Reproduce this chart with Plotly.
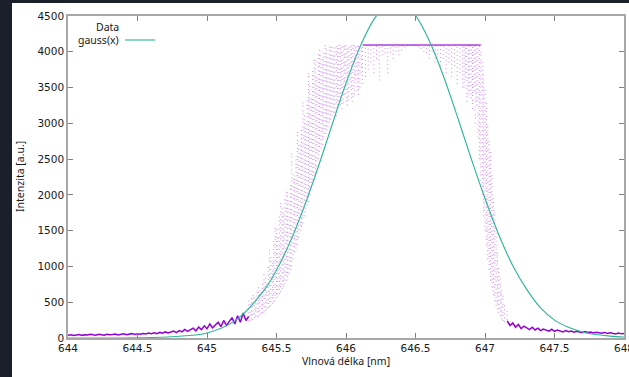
import plotly.graph_objects as go

# ---------------- data ----------------
# dense low-intensity parts of the measured spectrum (left and right tails)
tail_left_wl = [644.00, 644.02, 644.04, 644.06, 644.08, 644.10, 644.12, 644.14, 644.16, 644.18,
                644.20, 644.22, 644.24, 644.26, 644.28, 644.30, 644.32, 644.34, 644.36, 644.38,
                644.40, 644.42, 644.44, 644.46, 644.48, 644.50, 644.52, 644.54, 644.56, 644.58,
                644.60, 644.62, 644.64, 644.66, 644.68, 644.70, 644.72, 644.74, 644.76, 644.78,
                644.80, 644.82, 644.84, 644.86, 644.88, 644.90, 644.92, 644.94, 644.96, 644.98,
                645.00, 645.02, 645.04, 645.06, 645.08, 645.10, 645.12, 645.14, 645.16, 645.18,
                645.20, 645.22, 645.24, 645.26, 645.28, 645.30]
tail_left_int = [38, 45, 35, 43, 49, 37, 46, 41, 52, 44,
                 40, 51, 47, 39, 53, 45, 49, 56, 43, 51,
                 58, 47, 54, 61, 50, 59, 53, 64, 57, 68,
                 61, 73, 59, 78, 66, 85, 71, 80, 97, 75,
                 104, 86, 121, 93, 112, 138, 101, 152, 117, 170,
                 128, 196, 142, 181, 220, 158, 245, 176, 230, 285,
                 195, 310, 220, 350, 245, 300]

tail_right_wl = [647.16, 647.18, 647.20, 647.22, 647.24, 647.26, 647.28, 647.30, 647.32, 647.34,
                 647.36, 647.38, 647.40, 647.42, 647.44, 647.46, 647.48, 647.50, 647.52, 647.54,
                 647.56, 647.58, 647.60, 647.62, 647.64, 647.66, 647.68, 647.70, 647.72, 647.74,
                 647.76, 647.78, 647.80, 647.82, 647.84, 647.86, 647.88, 647.90, 647.92, 647.94,
                 647.96, 647.98, 648.00]
tail_right_int = [240, 175, 210, 150, 190, 130, 165, 140, 118, 150,
                  112, 138, 104, 126, 115, 96, 122, 92, 110, 100,
                  86, 105, 88, 97, 80, 93, 86, 75, 90, 78,
                  84, 70, 80, 74, 66, 78, 63, 72, 66, 57,
                  69, 58, 62]

# scattered part of the spectrum: spread of the dots at each wavelength (low / high)
mid_wl = [645.30, 645.32, 645.34, 645.36, 645.38, 645.40, 645.42, 645.44, 645.46, 645.48,
          645.50, 645.52, 645.54, 645.56, 645.58, 645.60, 645.62, 645.64, 645.66, 645.68,
          645.70, 645.72, 645.74, 645.76, 645.78, 645.80, 645.82, 645.84, 645.86, 645.88,
          645.90, 645.92, 645.94, 645.96, 645.98, 646.00, 646.02, 646.04, 646.06, 646.08,
          646.10, 646.12, 646.14, 646.16, 646.18, 646.20, 646.22, 646.24, 646.26, 646.28,
          646.30, 646.32, 646.34, 646.36, 646.38, 646.40, 646.42, 646.44, 646.46, 646.48,
          646.50, 646.52, 646.54, 646.56, 646.58, 646.60, 646.62, 646.64, 646.66, 646.68,
          646.70, 646.72, 646.74, 646.76, 646.78, 646.80, 646.82, 646.84, 646.86, 646.88,
          646.90, 646.92, 646.94, 646.96, 646.98, 647.00, 647.02, 647.04, 647.06, 647.08,
          647.10, 647.12, 647.14, 647.16]
mid_low = [230, 260, 280, 300, 320, 350, 380, 420, 450, 500,
           560, 620, 680, 750, 850, 950, 1100, 1250, 1400, 1550,
           1700, 1850, 2000, 2150, 2300, 2500, 2650, 2800, 2900, 3000,
           3100, 3150, 3200, 3250, 3280, 3300, 3320, 3350, 3400, 3450,
           3500, 3550, 3650, 3750, 3850, 3700, 3900, 3600, 3950, 3980,
           3700, 3990, 3900, 4000, 3950, 4020, 4060, 4080, 4085, 4085,
           4080, 4070, 4040, 4000, 3980, 3900, 4000, 3850, 3960, 3800,
           3900, 3700, 3850, 3650, 3800, 3550, 3700, 3500, 3650, 3400,
           3350, 3450, 3250, 2500, 2000, 1500, 1100, 800, 600, 450,
           350, 260, 220, 200]
mid_high = [520, 560, 600, 650, 700, 760, 850, 1000, 1150, 1350,
            1550, 1700, 1850, 1950, 2050, 2150, 2300, 2500, 2750, 2950,
            3150, 3350, 3550, 3750, 3900, 3980, 4000, 4030, 4050, 4070,
            4090, 4095, 4095, 4095, 4095, 4095, 4095, 4095, 4095, 4095,
            4095, 4095, 4095, 4095, 4095, 4095, 4095, 4095, 4095, 4095,
            4095, 4095, 4095, 4095, 4095, 4095, 4095, 4095, 4095, 4095,
            4095, 4095, 4095, 4095, 4095, 4095, 4095, 4095, 4095, 4095,
            4095, 4095, 4095, 4095, 4095, 4095, 4095, 4095, 4095, 4095,
            4095, 4095, 4095, 4095, 3900, 3500, 3000, 2600, 2000, 1500,
            1000, 700, 500, 400]

# extra scattered columns in the densest parts of both slopes
mid2_wl = [645.31, 645.33, 645.35, 645.37, 645.39, 645.41, 645.43, 645.45, 645.47, 645.49,
           645.51, 645.53, 645.55, 645.57, 645.59, 645.61, 645.63, 645.65, 645.67, 645.69,
           645.71, 645.73, 645.75, 645.77, 645.79, 645.81, 645.83, 645.85, 645.87, 645.89,
           645.91, 645.93, 645.95, 645.97, 645.99, 646.01, 646.03, 646.05, 646.07, 646.09,
           646.11,
           646.85, 646.87, 646.89, 646.91, 646.93, 646.95, 646.97, 646.99, 647.01, 647.03,
           647.05, 647.07, 647.09, 647.11, 647.13]
mid2_low = [240, 250, 300, 290, 340, 360, 410, 430, 480, 520,
            600, 640, 720, 800, 900, 1000, 1200, 1300, 1500, 1600,
            1800, 1900, 2100, 2200, 2400, 2600, 2700, 2850, 2950, 3050,
            3150, 3100, 3300, 3200, 3400, 3250, 3500, 3300, 3600, 3400,
            3700,
            3500, 3300, 3450, 3200, 3000, 2800, 2200, 1700, 1300, 950,
            700, 520, 400, 300, 240]
mid2_high = [480, 620, 560, 720, 650, 900, 780, 1250, 1100, 1600,
             1450, 1900, 1750, 2100, 1950, 2600, 2250, 2900, 2700, 3300,
             3000, 3700, 3400, 3950, 3700, 4050, 3900, 4095, 3950, 4095,
             4000, 4095, 4095, 4095, 4095, 4095, 4095, 4095, 4095, 4095,
             4095,
             4095, 4095, 4095, 4095, 4095, 4095, 4050, 3700, 3300, 2800,
             2300, 1800, 1200, 850, 600]

# saturated plateau of the detector
plateau_wl = [646.12, 646.97]
plateau_int = [4095, 4095]

# fitted gauss(x) curve
gauss_wl = [644.0, 644.5, 644.8, 645.0, 645.2, 645.4, 645.5, 645.6, 645.7, 645.8,
            645.9, 646.0, 646.1, 646.2, 646.3, 646.36, 646.4, 646.5, 646.6, 646.7,
            646.8, 646.9, 647.0, 647.1, 647.2, 647.3, 647.4, 647.5, 647.6, 647.7,
            647.8, 647.9, 648.0]
gauss_int = [0, 3, 25, 70, 240, 640, 950, 1350, 1840, 2390,
             2980, 3560, 4065, 4450, 4665, 4700, 4685, 4505, 4150, 3665,
             3100, 2510, 1950, 1440, 1010, 680, 420, 250, 150, 85,
             48, 26, 14]

x_ticks = [644, 644.5, 645, 645.5, 646, 646.5, 647, 647.5, 648]
y_ticks = [0, 500, 1000, 1500, 2000, 2500, 3000, 3500, 4000, 4500]

x_title = "Vlnová délka [nm]"
y_title = "Intenzita [a.u.]"
legend_labels = ["Data", "gauss(x)"]

# ---------------- figure ----------------
PURPLE = "#9400d3"
GREEN = "#2ab495"


def columns(wl, lo, hi):
    xs, ys = [], []
    for w, a, b in zip(wl, lo, hi):
        xs += [w, w, None]
        ys += [a, b, None]
    return xs, ys


fig = go.Figure()
for (wl, lo, hi), dash in (((mid_wl, mid_low, mid_high), "1px,3px"),
                           ((mid2_wl, mid2_low, mid2_high), "1px,4px,1px,2px")):
    cx, cy = columns(wl, lo, hi)
    fig.add_trace(go.Scatter(x=cx, y=cy, mode="lines", hoverinfo="skip",
                             line=dict(color="rgba(148,0,211,0.45)", width=1, dash=dash),
                             showlegend=False))
fig.add_trace(go.Scatter(x=tail_left_wl, y=tail_left_int, mode="lines",
                         line=dict(color=PURPLE, width=1.5), showlegend=False))
fig.add_trace(go.Scatter(x=tail_right_wl, y=tail_right_int, mode="lines",
                         line=dict(color=PURPLE, width=1.5), showlegend=False))
fig.add_trace(go.Scatter(x=plateau_wl, y=plateau_int, mode="lines",
                         line=dict(color="rgba(148,0,211,0.75)", width=1.4), showlegend=False))
fig.add_trace(go.Scatter(x=gauss_wl, y=gauss_int, mode="lines", line_shape="spline",
                         line=dict(color=GREEN, width=1.1), showlegend=False))

W, H = 629, 377
L, R, T, B = 68, 5, 16, 39
pw, ph = W - L - R, H - T - B


def px2paper_x(px):
    return (px - L) / pw


def px2paper_y(py):
    return (H - B - py) / ph


axis_common = dict(showgrid=False, zeroline=False, showline=True, linecolor="#a8a8a8",
                   linewidth=1.5, mirror="ticks", ticks="inside", ticklen=5,
                   tickcolor="#808080", tickwidth=1,
                   tickfont=dict(family="DejaVu Sans", size=10.5, color="#1a1a1a"))

fig.update_xaxes(range=[644, 648], tickvals=x_ticks, ticktext=[f"{v:g}" for v in x_ticks],
                 ticklabeloverflow="allow", **axis_common)
fig.update_yaxes(range=[0, 4500], tickvals=y_ticks, ticktext=[str(v) for v in y_ticks],
                 ticklabeloverflow="allow", **axis_common)

title_font = dict(family="Noto Sans", size=10.5, color="#1a1a1a")
annotations = [
    dict(text=x_title, xref="paper", yref="paper", x=px2paper_x(346), y=px2paper_y(361),
         xanchor="center", yanchor="middle", showarrow=False, font=title_font),
    dict(text=y_title, xref="paper", yref="paper", x=px2paper_x(20), y=px2paper_y(177),
         xanchor="center", yanchor="middle", showarrow=False, textangle=-90, font=title_font),
    dict(text=legend_labels[0], xref="paper", yref="paper", x=px2paper_x(121), y=px2paper_y(26.5),
         xanchor="right", yanchor="middle", showarrow=False, font=title_font),
    dict(text=legend_labels[1], xref="paper", yref="paper", x=px2paper_x(121), y=px2paper_y(40),
         xanchor="right", yanchor="middle", showarrow=False, font=title_font),
]

DARK = "#1b1f29"
shapes = [
    dict(type="rect", xref="paper", yref="paper", x0=px2paper_x(-2), x1=px2paper_x(12),
         y0=px2paper_y(H + 2), y1=px2paper_y(-2), fillcolor=DARK, line_width=0, layer="above"),
    dict(type="rect", xref="paper", yref="paper", x0=px2paper_x(-2), x1=px2paper_x(W + 2),
         y0=px2paper_y(3), y1=px2paper_y(-2), fillcolor=DARK, line_width=0, layer="above"),
    dict(type="line", xref="paper", yref="paper", x0=px2paper_x(125), x1=px2paper_x(155),
         y0=px2paper_y(40), y1=px2paper_y(40), line=dict(color=GREEN, width=1.1)),
]

fig.update_layout(width=W, height=H, margin=dict(l=L, r=R, t=T, b=B, autoexpand=False),
                  paper_bgcolor="white", plot_bgcolor="white",
                  annotations=annotations, shapes=shapes, showlegend=False)

fig.write_html("out.html", config={"displayModeBar": False},
               post_script="document.body.style.margin='0';document.body.style.overflow='hidden';")
